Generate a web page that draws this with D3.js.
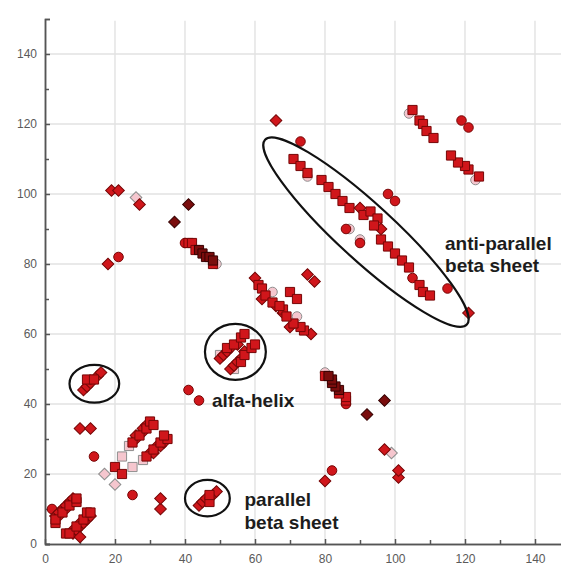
<!DOCTYPE html>
<html>
<head>
<meta charset="utf-8">
<script src="https://cdn.jsdelivr.net/npm/d3@7"></script>
<style>
  body { margin: 0; background: #fff; }
  svg { display: block; }
</style>
</head>
<body>
<svg id="chart" width="561" height="568"></svg>
<script>
// Residue contact map: each mark is a contact between residue i (x) and residue j (y)
const xTicks = [0, 20, 40, 60, 80, 100, 120, 140];
const yTicks = [0, 20, 40, 60, 80, 100, 120, 140];
const xMinorTicks = [10, 30, 50, 70, 90, 110, 130];
const yMinorTicks = [10, 30, 50, 70, 90, 110, 130];

const redSquares = [
  [3, 6], [3, 7], [5, 9], [7, 11], [9, 12], [9, 13],
  [6, 3], [7, 3], [9, 5], [11, 7], [12, 9], [13, 9],
  [20, 22], [22, 20],
  [25, 29], [27, 31], [29, 33], [30, 35], [31, 34],
  [29, 25], [31, 27], [33, 29], [35, 30], [34, 31],
  [12, 47], [14, 47], [47, 12], [47, 14],
  [52, 56], [54, 57], [56, 59], [57, 60],
  [56, 52], [57, 54], [59, 56], [60, 57],
  [61, 74], [62, 73], [63, 71], [65, 69], [68, 67],
  [74, 61], [73, 62], [71, 63], [69, 65], [67, 68],
  [70, 72], [72, 70],
  [41, 86], [42, 86], [43, 84], [48, 80],
  [86, 41], [86, 42], [84, 43], [80, 48],
  [71, 110], [73, 108], [75, 106], [79, 104], [81, 102], [83, 100], [85, 98], [87, 96],
  [91, 94], [93, 95], [95, 93], [94, 91],
  [96, 87], [98, 85], [100, 83], [102, 81], [104, 79], [107, 74], [108, 72], [110, 71],
  [105, 124], [107, 121], [108, 120], [109, 118], [111, 116],
  [124, 105], [121, 107], [120, 108], [118, 109], [116, 111]
];

const redDiamonds = [
  [3, 8], [4, 8], [4, 9], [5, 10], [6, 10], [6, 11], [7, 12], [8, 12], [8, 13],
  [8, 3], [8, 4], [9, 4], [10, 5], [10, 6], [11, 6], [12, 7], [12, 8], [13, 8],
  [10, 2],
  [10, 33], [13, 33], [33, 10], [33, 13],
  [26, 30], [26, 31], [28, 32], [28, 33], [29, 34],
  [30, 26], [31, 26], [32, 28], [33, 28], [34, 29],
  [11, 44], [12, 45], [13, 46], [15, 48], [16, 49],
  [44, 11], [45, 12], [46, 13], [48, 14], [49, 15],
  [50, 53], [51, 54], [52, 55], [53, 56], [55, 57],
  [53, 50], [54, 51], [55, 52], [56, 53], [57, 55],
  [60, 76], [62, 70], [66, 68], [76, 60], [70, 62], [68, 66],
  [75, 77], [77, 75],
  [19, 101], [21, 101], [27, 97], [18, 80],
  [101, 19], [101, 21], [97, 27], [80, 18],
  [66, 121], [121, 66],
  [90, 96], [96, 90]
];

const redCircles = [
  [2, 10], [14, 25], [25, 14], [41, 44], [44, 41],
  [21, 82], [82, 21], [40, 86], [86, 40],
  [73, 115], [115, 73], [86, 90], [90, 86],
  [98, 100], [100, 98], [105, 76], [119, 121], [121, 119]
];

const darkSquares = [
  [44, 84], [45, 83], [46, 82], [47, 82], [48, 81],
  [84, 44], [83, 45], [82, 46], [82, 47], [81, 48]
];

const darkDiamonds = [[41, 97], [37, 92], [97, 41], [92, 37]];

const pinkSquares = [[22, 25], [25, 22], [24, 28], [28, 24], [50, 54], [54, 50]];
const pinkDiamonds = [[17, 20], [20, 17], [26, 99], [99, 26]];
const pinkCircles = [
  [65, 72], [72, 65], [80, 49], [49, 80], [75, 105],
  [90, 87], [87, 90], [104, 123], [123, 104]
];

// Structure annotations (data units)
const regions = [
  { cx: 14.1, cy: 45.8, rx: 7.1, ry: 5.4, angle: 0 },
  { cx: 46.4, cy: 13.1, rx: 6.4, ry: 5.2, angle: 0 },
  { cx: 54.4, cy: 54.9, rx: 8.7, ry: 8.0, angle: 0 },
  { cx: 91.7, cy: 89.1, rx: 39.1, ry: 8.0, angle: 42.5 }
];
const labels = [
  { text: "alfa-helix", x: 47.7, y: 39.1 },
  { text: "parallel", x: 57.0, y: 10.9 },
  { text: "beta sheet", x: 57.0, y: 4.3 },
  { text: "anti-parallel", x: 114.3, y: 84.0 },
  { text: "beta sheet", x: 114.3, y: 77.7 }
];

const svg = d3.select("#chart");
const x = d3.scaleLinear().domain([0, 148]).range([45, 563]);
const y = d3.scaleLinear().domain([0, 150]).range([544, 19]);

// grid
const grid = svg.append("g").attr("stroke", "#e2e2e2").attr("stroke-width", 1.4);
grid.selectAll("line.v").data(xTicks.filter(d => d > 0)).join("line")
  .attr("x1", d => x(d)).attr("x2", d => x(d))
  .attr("y1", y(0)).attr("y2", y(149.5));
grid.selectAll("line.h").data(yTicks.filter(d => d > 0)).join("line")
  .attr("x1", x(0)).attr("x2", x(148))
  .attr("y1", d => y(d)).attr("y2", d => y(d));

// axes
function styleAxis(g) {
  g.selectAll("path, line").attr("stroke", "#555").attr("stroke-width", 1.5);
  g.selectAll("text").attr("fill", "#5a5a5a")
    .style("font-family", "'Liberation Sans', Arial, sans-serif").style("font-size", "12px");
}
svg.append("g").attr("transform", `translate(0,${y(0)})`)
  .call(d3.axisBottom(x).tickValues(xMinorTicks).tickSize(-4).tickSizeOuter(0).tickFormat(""))
  .call(styleAxis);
svg.append("g").attr("transform", `translate(0,${y(0)})`)
  .call(d3.axisBottom(x).tickValues(xTicks).tickSize(-5).tickSizeOuter(0).tickPadding(10))
  .call(styleAxis);
svg.append("g").attr("transform", `translate(${x(0)},0)`)
  .call(d3.axisLeft(y).tickValues(yMinorTicks).tickSize(-4).tickSizeOuter(-5).tickFormat(""))
  .call(styleAxis);
svg.append("g").attr("transform", `translate(${x(0)},0)`)
  .call(d3.axisLeft(y).tickValues(yTicks).tickSize(-5).tickSizeOuter(-5).tickPadding(8))
  .call(styleAxis);

// marks
const styles = {
  red: { fill: "#d0161b", stroke: "#760707" },
  dark: { fill: "#7a0d0d", stroke: "#380303" },
  pink: { fill: "#f5c6ce", stroke: "#8e8e8e" }
};
const shapes = {
  square: { type: d3.symbolSquare, size: 84, rotate: 0 },
  diamond: { type: d3.symbolSquare, size: 68, rotate: 45 },
  circle: { type: d3.symbolCircle, size: 72, rotate: 0 }
};
function drawSeries(data, shape, tone) {
  const s = shapes[shape], c = styles[tone];
  svg.append("g").selectAll("path").data(data).join("path")
    .attr("d", d3.symbol(s.type, s.size)())
    .attr("transform", d => `translate(${x(d[0])},${y(d[1])}) rotate(${s.rotate})`)
    .attr("fill", c.fill).attr("stroke", c.stroke).attr("stroke-width", 1);
}
drawSeries(pinkCircles, "circle", "pink");
drawSeries(pinkSquares, "square", "pink");
drawSeries(pinkDiamonds, "diamond", "pink");
drawSeries(redCircles, "circle", "red");
drawSeries(redDiamonds, "diamond", "red");
drawSeries(redSquares, "square", "red");
drawSeries(darkSquares, "square", "dark");
drawSeries(darkDiamonds, "diamond", "dark");

// annotations
const kx = x(1) - x(0), ky = y(0) - y(1);
svg.append("g").selectAll("ellipse").data(regions).join("ellipse")
  .attr("cx", 0).attr("cy", 0)
  .attr("rx", d => d.rx * kx).attr("ry", d => d.ry * ky)
  .attr("transform", d => `translate(${x(d.cx)},${y(d.cy)}) rotate(${d.angle})`)
  .attr("fill", "none").attr("stroke", "#111").attr("stroke-width", 2.2);

svg.append("g").selectAll("text").data(labels).join("text")
  .attr("x", d => x(d.x)).attr("y", d => y(d.y))
  .text(d => d.text)
  .attr("fill", "#1c1c1c")
  .style("font-family", "'Liberation Sans', Arial, sans-serif")
  .style("font-weight", "bold").style("font-size", "19px");
</script>
</body>
</html>
